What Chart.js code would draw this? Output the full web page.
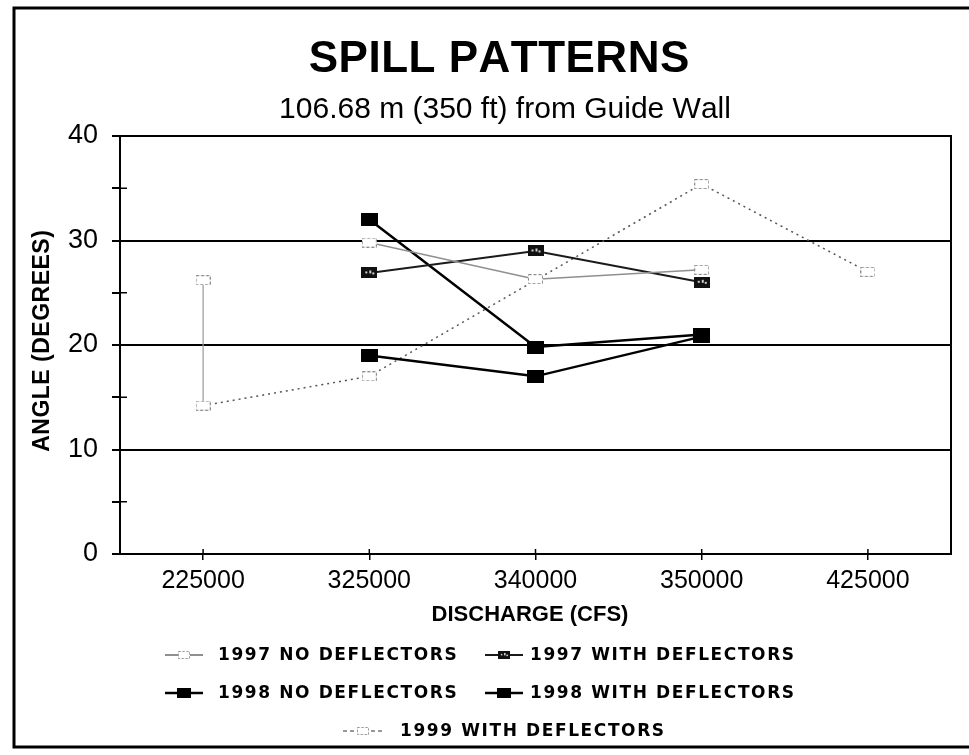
<!DOCTYPE html>
<html><head><meta charset="utf-8">
<script src="https://cdn.jsdelivr.net/npm/chart.js@4"></script>
<style>html,body{margin:0;padding:0;background:#fff;}canvas{display:block}</style>
</head><body>
<canvas id="c" width="969" height="755"></canvas>
<script>
// ---- data ----
const categories = ['225000', '325000', '340000', '350000', '425000'];
const seriesLabels = ['1997 NO DEFLECTORS', '1997 WITH DEFLECTORS', '1998 NO DEFLECTORS', '1998 WITH DEFLECTORS', '1999 WITH DEFLECTORS'];
const s1997No   = [null, 29.8, 26.3, 27.2, null];
const s1997With = [null, 26.9, 29.0, 26.0, null];
const s1998No   = [null, 32.0, 19.8, 21.0, null];
const s1998With = [null, 19.0, 17.0, 20.8, null];
const s1999WithX = ['225000', '225000', '325000', '350000', '425000'];
const s1999WithY = [26.2, 14.2, 17.0, 35.4, 27.0];
const yMin = 0, yMax = 40, yMajor = 10, yMinor = 5;
const titleText = 'SPILL PATTERNS';
const subtitleText = '106.68 m (350 ft) from Guide Wall';
const xTitle = 'DISCHARGE (CFS)';
const yTitle = 'ANGLE (DEGREES)';

// ---- font availability ----
function hasFont(name) {
  const g = document.createElement('canvas').getContext('2d');
  const s = 'abcdefghijklmnopqrstuvwxyz0123456789';
  let r = false;
  ['monospace', 'serif'].forEach(f => {
    g.font = '40px ' + f; const a = g.measureText(s).width;
    g.font = '40px "' + name + '", ' + f; const b = g.measureText(s).width;
    if (a !== b) r = true;
  });
  return r;
}
const SANS = '"Liberation Sans", Arial, sans-serif';
const narrow = hasFont('Liberation Sans Narrow');
const NARROW = narrow ? '"Liberation Sans Narrow", "Liberation Sans", sans-serif' : SANS;
const xTickSize = narrow ? 30 : 25;
const xTitleFont = narrow ? 'bold 26px ' + NARROW : 'bold 22px ' + SANS;

// ---- marker images ----
function mk(w, h, draw) { const c = document.createElement('canvas'); c.width = w; c.height = h; draw(c.getContext('2d'), w, h); return c; }
const mOpen = mk(15, 10, (g, w, h) => { g.fillStyle = '#fff'; g.fillRect(0, 0, w, h); g.strokeStyle = '#8a8a8a'; g.lineWidth = 1; g.setLineDash([3, 2]); g.strokeRect(0.5, 0.5, w - 1, h - 1); });
const mDark = mk(16, 11, (g, w, h) => { g.fillStyle = '#111'; g.fillRect(0, 0, w, h); g.fillStyle = '#cfcfcf'; g.fillRect(4, 4, 2, 2); g.fillRect(8, 3, 2, 3); g.fillRect(11, 5, 2, 2); });
const mBlack = mk(17, 13, (g, w, h) => { g.fillStyle = '#000'; g.fillRect(0, 0, w, h); });

const datasets = [
  { label: seriesLabels[0], data: s1997No, borderColor: '#8f8f8f', borderWidth: 1.5, pointStyle: mOpen, legendMarker: mOpen },
  { label: seriesLabels[1], data: s1997With, borderColor: '#1a1a1a', borderWidth: 2, pointStyle: mDark, legendMarker: mDark },
  { label: seriesLabels[2], data: s1998No, borderColor: '#000', borderWidth: 2.5, pointStyle: mBlack, legendMarker: mBlack },
  { label: seriesLabels[3], data: s1998With, borderColor: '#000', borderWidth: 2.5, pointStyle: mBlack, legendMarker: mBlack },
  { label: seriesLabels[4], data: s1999WithX.map((x, i) => ({ x: x, y: s1999WithY[i] })),
    borderColor: '#555', borderWidth: 1.5, borderDash: [2, 4], pointStyle: mOpen, legendMarker: mOpen,
    segment: {
      borderDash: c => c.p0DataIndex === 0 ? [] : [2, 4],
      borderColor: c => c.p0DataIndex === 0 ? '#9a9a9a' : '#555',
      borderWidth: c => c.p0DataIndex === 0 ? 1.2 : 1.5
    } }
].map(d => Object.assign({ fill: false, tension: 0, pointRadius: 6, spanGaps: false }, d));

function drawSpaced(ctx, text, x, y, sp, align) {
  const ws = [...text].map(ch => ctx.measureText(ch).width);
  const total = ws.reduce((a, b) => a + b, 0) + sp * (text.length - 1);
  let cx = align === 'center' ? x - total / 2 : (align === 'right' ? x - total : x);
  ctx.textAlign = 'left';
  [...text].forEach((ch, i) => { ctx.fillText(ch, cx, y); cx += ws[i] + sp; });
}

const legendPos = [
  { x0: 165, x1: 203, y: 655, tx: 218 },
  { x0: 485, x1: 523, y: 655, tx: 530 },
  { x0: 165, x1: 203, y: 693, tx: 218 },
  { x0: 485, x1: 523, y: 693, tx: 530 },
  { x0: 343, x1: 383, y: 731, tx: 400 }
];

const decor = {
  id: 'decor',
  afterDraw(chart) {
    const ctx = chart.ctx, a = chart.chartArea;
    ctx.save();
    // outer frame
    ctx.strokeStyle = '#000'; ctx.lineWidth = 3;
    ctx.strokeRect(14, 8, 970, 739);
    // plot right border
    ctx.lineWidth = 2;
    ctx.beginPath(); ctx.moveTo(a.right, a.top - 1); ctx.lineTo(a.right, a.bottom + 1); ctx.stroke();
    // inner halves of tick marks (ticks cross the axes)
    ctx.lineWidth = 1.5;
    const ys = chart.scales.y, xs = chart.scales.x;
    ys.ticks.forEach(t => {
      if (t.value % yMajor !== 0) {
        const py = ys.getPixelForValue(t.value);
        ctx.beginPath(); ctx.moveTo(a.left, py); ctx.lineTo(a.left + 7, py); ctx.stroke();
      }
    });
    xs.ticks.forEach((t, i) => {
      const px = xs.getPixelForTick(i);
      ctx.beginPath(); ctx.moveTo(px, a.bottom); ctx.lineTo(px, a.bottom - 5); ctx.stroke();
    });
    ctx.fillStyle = '#000'; ctx.textBaseline = 'middle';
    // title & subtitle
    ctx.font = 'bold 44px ' + SANS; drawSpaced(ctx, titleText, 499, 60, 0.5, 'center');
    ctx.font = '30px ' + SANS; drawSpaced(ctx, subtitleText, 505, 110, 0, 'center');
    // axis titles
    ctx.font = xTitleFont; drawSpaced(ctx, xTitle, 530, 615, 0, 'center');
    ctx.save(); ctx.translate(43, 341); ctx.rotate(-Math.PI / 2);
    ctx.font = 'bold 23px ' + SANS; drawSpaced(ctx, yTitle, 0, 0, 0.5, 'center');
    ctx.restore();
    // legend
    chart.data.datasets.forEach((d, i) => {
      const p = legendPos[i];
      ctx.save();
      ctx.strokeStyle = i === 4 ? '#777' : d.borderColor;
      ctx.lineWidth = i === 4 ? 1.5 : Math.max(2, d.borderWidth);
      ctx.setLineDash(i === 4 ? [4, 3] : []);
      ctx.beginPath(); ctx.moveTo(p.x0, p.y); ctx.lineTo(p.x1, p.y); ctx.stroke();
      const m = d.legendMarker, w = m.width * 0.8, h = m.height * 0.8, cx = (p.x0 + p.x1) / 2;
      ctx.fillStyle = '#fff'; if (i === 4) ctx.fillRect(cx - w / 2 - 2, p.y - h / 2 - 1, w + 4, h + 2);
      ctx.drawImage(m, cx - w / 2, p.y - h / 2, w, h);
      ctx.restore();
      ctx.fillStyle = '#000'; ctx.font = 'bold 17px "DejaVu Sans", sans-serif'; ctx.textBaseline = 'middle';
      drawSpaced(ctx, d.label, p.tx, p.y + 1, 1.6, 'left');
    });
    ctx.restore();
  }
};

new Chart(document.getElementById('c'), {
  type: 'line',
  data: { labels: categories, datasets: datasets },
  plugins: [decor],
  options: {
    responsive: false, animation: false, devicePixelRatio: 1,
    layout: { padding: { top: 136, right: 18, left: 0, bottom: 0 } },
    plugins: { legend: { display: false }, title: { display: false }, tooltip: { enabled: false } },
    scales: {
      x: {
        type: 'category', offset: true,
        grid: { display: true, drawOnChartArea: false, offset: false, tickLength: 6, color: '#000', lineWidth: 1.5 },
        border: { display: true, color: '#000', width: 2 },
        ticks: { color: '#000', font: { family: NARROW, size: xTickSize }, padding: 6, maxRotation: 0, autoSkip: false },
        afterFit(s) { s.height = 201; }
      },
      y: {
        min: yMin, max: yMax,
        grid: {
          color: c => (c.tick && c.tick.value % yMajor === 0 && c.tick.value > yMin) ? '#000' : 'rgba(0,0,0,0)',
          tickColor: '#000', lineWidth: 2, tickLength: 8
        },
        border: { display: true, color: '#000', width: 2 },
        ticks: { stepSize: yMinor, color: '#000', font: { family: SANS, size: 27 }, padding: 14,
          callback: v => (v % yMajor === 0 ? String(v) : '') },
        afterFit(s) { s.width = 120; }
      }
    }
  }
});
</script>
</body></html>
